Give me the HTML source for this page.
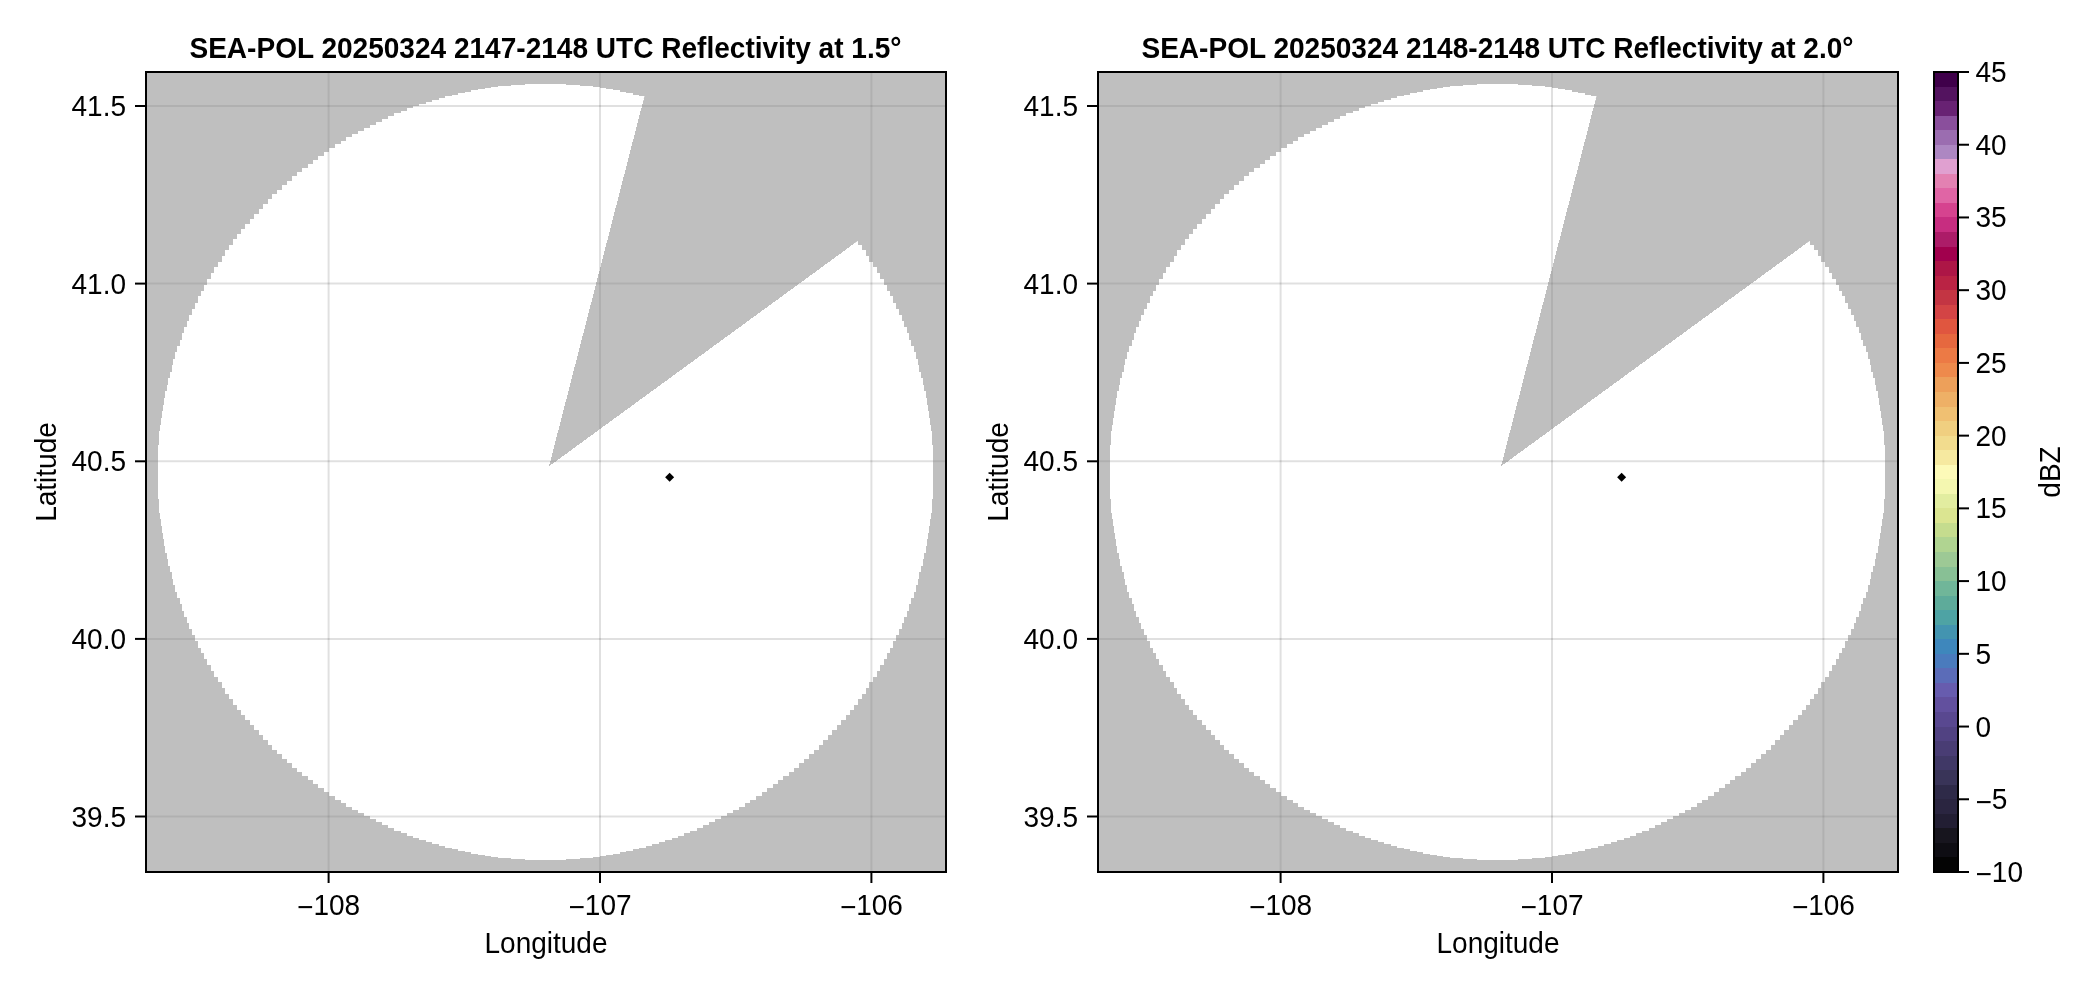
<!DOCTYPE html>
<html><head><meta charset="utf-8"><style>
html,body{margin:0;padding:0;background:#fff;width:2096px;height:990px;overflow:hidden}
svg{display:block;will-change:transform}
</style></head><body>
<svg width="2096" height="990" viewBox="0 0 2096 990">
<rect width="2096" height="990" fill="#fff"/>
<clipPath id="clip146"><rect x="146" y="72" width="800" height="800"/></clipPath>
<g stroke="#000" stroke-opacity="0.12" stroke-width="2"><line x1="328.6" y1="72" x2="328.6" y2="872"/><line x1="600.0" y1="72" x2="600.0" y2="872"/><line x1="871.4" y1="72" x2="871.4" y2="872"/><line x1="146" y1="106.0" x2="946" y2="106.0"/><line x1="146" y1="283.6" x2="946" y2="283.6"/><line x1="146" y1="461.3" x2="946" y2="461.3"/><line x1="146" y1="638.9" x2="946" y2="638.9"/><line x1="146" y1="816.5" x2="946" y2="816.5"/></g>
<clipPath id="wc146"><path clip-rule="evenodd" d="M96 22h900v900h-900z M549.05 466.25L1042.41 106.17L701.77 -126.15Z"/></clipPath>
<mask id="mask146" maskUnits="userSpaceOnUse" x="146" y="72" width="800" height="800"><rect x="146" y="72" width="800" height="800" fill="#fff"/><path d="M549.05 466.25 L855.37 242.68 A385.5 385.5 0 1 1 643.67 99.21 Z" fill="#000" shape-rendering="crispEdges"/><path d="M853 239h5v7h-5zM857 245h5v6h-5zM861 250h5v7h-5zM864 256h5v7h-5zM868 262h5v6h-5zM872 267h5v7h-5zM875 273h5v7h-5zM879 279h5v7h-5zM882 285h5v7h-5zM885 291h5v6h-5zM888 296h5v8h-5zM891 303h5v7h-5zM894 309h5v7h-5zM897 315h5v7h-5zM899 321h5v7h-5zM902 327h5v7h-5zM904 333h5v8h-5zM906 340h5v7h-5zM909 346h5v7h-5zM911 352h5v8h-5zM913 359h5v7h-5zM914 365h5v8h-5zM916 372h5v7h-5zM918 378h5v8h-5zM919 385h5v7h-5zM921 391h5v8h-5zM922 398h5v8h-5zM923 405h5v7h-5zM924 411h5v8h-5zM925 418h5v8h-5zM926 425h5v7h-5zM927 431h5v8h-5zM927 438h5v8h-5zM928 445h5v7h-5zM928 451h5v8h-5zM928 458h5v8h-5zM928 465h5v7h-5zM928 472h5v7h-5zM928 478h5v8h-5zM928 485h5v8h-5zM928 492h5v7h-5zM927 498h5v8h-5zM927 505h5v8h-5zM926 512h5v7h-5zM925 518h5v8h-5zM924 525h5v8h-5zM923 532h5v7h-5zM922 538h5v8h-5zM921 545h5v8h-5zM919 552h5v7h-5zM918 558h5v8h-5zM916 565h5v7h-5zM914 571h5v8h-5zM913 578h5v7h-5zM911 584h5v8h-5zM909 591h5v7h-5zM906 597h5v7h-5zM904 603h5v8h-5zM902 610h5v7h-5zM899 616h5v7h-5zM897 622h5v7h-5zM894 628h5v7h-5zM891 634h5v7h-5zM888 640h5v8h-5zM885 647h5v6h-5zM882 652h5v7h-5zM879 658h5v7h-5zM875 664h5v7h-5zM872 670h5v7h-5zM868 676h5v6h-5zM864 681h5v7h-5zM861 687h5v7h-5zM857 693h5v6h-5zM853 698h5v7h-5zM849 704h5v6h-5zM845 709h5v6h-5zM840 714h6v6h-6zM836 719h5v6h-5zM831 724h6v6h-6zM827 729h5v6h-5zM822 734h6v6h-6zM818 739h5v6h-5zM813 744h6v6h-6zM808 749h6v5h-6zM803 753h6v6h-6zM798 758h6v5h-6zM793 762h6v6h-6zM788 767h6v5h-6zM782 771h7v5h-7zM777 775h6v5h-6zM772 779h6v5h-6zM766 783h7v5h-7zM761 787h6v5h-6zM755 791h7v5h-7zM749 795h7v5h-7zM744 798h6v5h-6zM738 802h7v5h-7zM732 805h7v5h-7zM726 808h7v5h-7zM720 811h7v5h-7zM714 814h7v5h-7zM708 817h7v5h-7zM702 820h7v5h-7zM696 823h7v5h-7zM689 826h8v5h-8zM683 828h7v5h-7zM677 831h7v5h-7zM671 833h7v5h-7zM664 835h8v5h-8zM658 837h7v5h-7zM651 839h8v5h-8zM645 841h7v5h-7zM638 843h8v5h-8zM632 844h7v5h-7zM625 846h8v5h-8zM619 847h7v5h-7zM612 849h8v5h-8zM605 850h8v5h-8zM599 851h7v5h-7zM592 852h8v5h-8zM585 853h8v5h-8zM579 853h7v5h-7zM572 854h8v5h-8zM565 854h8v5h-8zM558 855h8v5h-8zM552 855h7v5h-7zM545 855h8v5h-8zM538 855h8v5h-8zM532 855h7v5h-7zM525 855h8v5h-8zM518 854h8v5h-8zM511 854h8v5h-8zM505 853h7v5h-7zM498 853h8v5h-8zM491 852h8v5h-8zM485 851h7v5h-7zM478 850h8v5h-8zM471 849h8v5h-8zM465 847h7v5h-7zM458 846h8v5h-8zM452 844h7v5h-7zM445 843h8v5h-8zM439 841h7v5h-7zM432 839h8v5h-8zM426 837h7v5h-7zM419 835h8v5h-8zM413 833h7v5h-7zM407 831h7v5h-7zM401 828h7v5h-7zM394 826h8v5h-8zM388 823h7v5h-7zM382 820h7v5h-7zM376 817h7v5h-7zM370 814h7v5h-7zM364 811h7v5h-7zM358 808h7v5h-7zM352 805h7v5h-7zM346 802h7v5h-7zM341 798h6v5h-6zM335 795h7v5h-7zM329 791h7v5h-7zM324 787h6v5h-6zM318 783h7v5h-7zM313 779h6v5h-6zM308 775h6v5h-6zM302 771h7v5h-7zM297 767h6v5h-6zM292 762h6v6h-6zM287 758h6v5h-6zM282 753h6v6h-6zM277 749h6v5h-6zM272 744h6v6h-6zM268 739h5v6h-5zM263 734h6v6h-6zM259 729h5v6h-5zM254 724h6v6h-6zM250 719h5v6h-5zM245 714h6v6h-6zM241 709h5v6h-5zM237 704h5v6h-5zM233 698h5v7h-5zM229 693h5v6h-5zM225 687h5v7h-5zM222 681h5v7h-5zM218 676h5v6h-5zM214 670h5v7h-5zM211 664h5v7h-5zM207 658h5v7h-5zM204 652h5v7h-5zM201 647h5v6h-5zM198 640h5v8h-5zM195 634h5v7h-5zM192 628h5v7h-5zM189 622h5v7h-5zM187 616h5v7h-5zM184 610h5v7h-5zM182 603h5v8h-5zM180 597h5v7h-5zM177 591h5v7h-5zM175 584h5v8h-5zM173 578h5v7h-5zM172 571h5v8h-5zM170 565h5v7h-5zM168 558h5v8h-5zM167 552h5v7h-5zM165 545h5v8h-5zM164 538h5v8h-5zM163 532h5v7h-5zM162 525h5v8h-5zM161 518h5v8h-5zM160 512h5v7h-5zM159 505h5v8h-5zM159 498h5v8h-5zM158 492h5v7h-5zM158 485h5v8h-5zM158 478h5v8h-5zM158 472h5v7h-5zM158 465h5v7h-5zM158 458h5v8h-5zM158 451h5v8h-5zM158 445h5v7h-5zM159 438h5v8h-5zM159 431h5v8h-5zM160 425h5v7h-5zM161 418h5v8h-5zM162 411h5v8h-5zM163 405h5v7h-5zM164 398h5v8h-5zM165 391h5v8h-5zM167 385h5v7h-5zM168 378h5v8h-5zM170 372h5v7h-5zM172 365h5v8h-5zM173 359h5v7h-5zM175 352h5v8h-5zM177 346h5v7h-5zM180 340h5v7h-5zM182 333h5v8h-5zM184 327h5v7h-5zM187 321h5v7h-5zM189 315h5v7h-5zM192 309h5v7h-5zM195 303h5v7h-5zM198 296h5v8h-5zM201 291h5v6h-5zM204 285h5v7h-5zM207 279h5v7h-5zM211 273h5v7h-5zM214 267h5v7h-5zM218 262h5v6h-5zM222 256h5v7h-5zM225 250h5v7h-5zM229 245h5v6h-5zM233 239h5v7h-5zM237 234h5v6h-5zM241 229h5v6h-5zM245 224h6v6h-6zM250 219h5v6h-5zM254 214h6v6h-6zM259 209h5v6h-5zM263 204h6v6h-6zM268 199h5v6h-5zM272 194h6v6h-6zM277 190h6v5h-6zM282 185h6v6h-6zM287 181h6v5h-6zM292 176h6v6h-6zM297 172h6v5h-6zM302 168h7v5h-7zM308 164h6v5h-6zM313 160h6v5h-6zM318 156h7v5h-7zM324 152h6v5h-6zM329 148h7v5h-7zM335 144h7v5h-7zM341 141h6v5h-6zM346 137h7v5h-7zM352 134h7v5h-7zM358 131h7v5h-7zM364 128h7v5h-7zM370 125h7v5h-7zM376 122h7v5h-7zM382 119h7v5h-7zM388 116h7v5h-7zM394 113h8v5h-8zM401 111h7v5h-7zM407 108h7v5h-7zM413 106h7v5h-7zM419 104h8v5h-8zM426 102h7v5h-7zM432 100h8v5h-8zM439 98h7v5h-7zM445 96h8v5h-8zM452 95h7v5h-7zM458 93h8v5h-8zM465 92h7v5h-7zM471 90h8v5h-8zM478 89h8v5h-8zM485 88h7v5h-7zM491 87h8v5h-8zM498 86h8v5h-8zM505 86h7v5h-7zM511 85h8v5h-8zM518 85h8v5h-8zM525 84h8v5h-8zM532 84h7v5h-7zM538 84h8v5h-8zM545 84h8v5h-8zM552 84h7v5h-7zM558 84h8v5h-8zM565 85h8v5h-8zM572 85h8v5h-8zM579 86h7v5h-7zM585 86h8v5h-8zM592 87h8v5h-8zM599 88h7v5h-7zM605 89h8v5h-8zM612 90h8v5h-8zM619 92h7v5h-7zM625 93h8v5h-8zM632 95h7v5h-7zM638 96h8v5h-8z" fill="#000" shape-rendering="crispEdges" clip-path="url(#wc146)"/></mask>
<rect x="146" y="72" width="800" height="800" fill="#7f7f7f" fill-opacity="0.5" mask="url(#mask146)"/>
<path d="M669.6 472.8 L674.1 477.3 L669.6 481.8 L665.1 477.3 Z" fill="#000"/>
<rect x="146" y="72" width="800" height="800" fill="none" stroke="#000" stroke-width="2"/>
<g stroke="#000" stroke-width="2"><line x1="328.6" y1="872" x2="328.6" y2="883"/><line x1="600.0" y1="872" x2="600.0" y2="883"/><line x1="871.4" y1="872" x2="871.4" y2="883"/><line x1="135" y1="106.0" x2="146" y2="106.0"/><line x1="135" y1="283.6" x2="146" y2="283.6"/><line x1="135" y1="461.3" x2="146" y2="461.3"/><line x1="135" y1="638.9" x2="146" y2="638.9"/><line x1="135" y1="816.5" x2="146" y2="816.5"/></g>
<g font-family="Liberation Sans, sans-serif" fill="#000"><text transform="translate(328.60 915.00) scale(0.9492 1)" font-size="29.5" text-anchor="middle"><tspan dy="2.3">−</tspan><tspan dy="-2.3">108</tspan></text><text transform="translate(600.00 915.00) scale(0.9492 1)" font-size="29.5" text-anchor="middle"><tspan dy="2.3">−</tspan><tspan dy="-2.3">107</tspan></text><text transform="translate(871.40 915.00) scale(0.9492 1)" font-size="29.5" text-anchor="middle"><tspan dy="2.3">−</tspan><tspan dy="-2.3">106</tspan></text><text transform="translate(126.00 116.00) scale(0.9492 1)" font-size="29.5" text-anchor="end">41.5</text><text transform="translate(126.00 293.60) scale(0.9492 1)" font-size="29.5" text-anchor="end">41.0</text><text transform="translate(126.00 471.30) scale(0.9492 1)" font-size="29.5" text-anchor="end">40.5</text><text transform="translate(126.00 648.90) scale(0.9492 1)" font-size="29.5" text-anchor="end">40.0</text><text transform="translate(126.00 826.50) scale(0.9492 1)" font-size="29.5" text-anchor="end">39.5</text><text transform="translate(546.00 953.00) scale(0.9492 1)" font-size="29.5" text-anchor="middle">Longitude</text><text transform="translate(56.00 472.00) rotate(-90) scale(0.9492 1)" font-size="29.5" text-anchor="middle">Latitude</text><text transform="translate(545.50 58.00) scale(0.9350 1)" font-size="30" text-anchor="middle" font-weight="bold">SEA-POL 20250324 2147-2148 UTC Reflectivity at 1.5°</text></g>
<clipPath id="clip1098"><rect x="1098" y="72" width="800" height="800"/></clipPath>
<g stroke="#000" stroke-opacity="0.12" stroke-width="2"><line x1="1280.6" y1="72" x2="1280.6" y2="872"/><line x1="1552.0" y1="72" x2="1552.0" y2="872"/><line x1="1823.4" y1="72" x2="1823.4" y2="872"/><line x1="1098" y1="106.0" x2="1898" y2="106.0"/><line x1="1098" y1="283.6" x2="1898" y2="283.6"/><line x1="1098" y1="461.3" x2="1898" y2="461.3"/><line x1="1098" y1="638.9" x2="1898" y2="638.9"/><line x1="1098" y1="816.5" x2="1898" y2="816.5"/></g>
<clipPath id="wc1098"><path clip-rule="evenodd" d="M1048 22h900v900h-900z M1501.05 466.25L1994.41 106.17L1653.77 -126.15Z"/></clipPath>
<mask id="mask1098" maskUnits="userSpaceOnUse" x="1098" y="72" width="800" height="800"><rect x="1098" y="72" width="800" height="800" fill="#fff"/><path d="M1501.05 466.25 L1807.37 242.68 A385.5 385.5 0 1 1 1595.67 99.21 Z" fill="#000" shape-rendering="crispEdges"/><path d="M1805 239h5v7h-5zM1809 245h5v6h-5zM1813 250h5v7h-5zM1816 256h5v7h-5zM1820 262h5v6h-5zM1824 267h5v7h-5zM1827 273h5v7h-5zM1831 279h5v7h-5zM1834 285h5v7h-5zM1837 291h5v6h-5zM1840 296h5v8h-5zM1843 303h5v7h-5zM1846 309h5v7h-5zM1849 315h5v7h-5zM1851 321h5v7h-5zM1854 327h5v7h-5zM1856 333h5v8h-5zM1858 340h5v7h-5zM1861 346h5v7h-5zM1863 352h5v8h-5zM1865 359h5v7h-5zM1866 365h5v8h-5zM1868 372h5v7h-5zM1870 378h5v8h-5zM1871 385h5v7h-5zM1873 391h5v8h-5zM1874 398h5v8h-5zM1875 405h5v7h-5zM1876 411h5v8h-5zM1877 418h5v8h-5zM1878 425h5v7h-5zM1879 431h5v8h-5zM1879 438h5v8h-5zM1880 445h5v7h-5zM1880 451h5v8h-5zM1880 458h5v8h-5zM1880 465h5v7h-5zM1880 472h5v7h-5zM1880 478h5v8h-5zM1880 485h5v8h-5zM1880 492h5v7h-5zM1879 498h5v8h-5zM1879 505h5v8h-5zM1878 512h5v7h-5zM1877 518h5v8h-5zM1876 525h5v8h-5zM1875 532h5v7h-5zM1874 538h5v8h-5zM1873 545h5v8h-5zM1871 552h5v7h-5zM1870 558h5v8h-5zM1868 565h5v7h-5zM1866 571h5v8h-5zM1865 578h5v7h-5zM1863 584h5v8h-5zM1861 591h5v7h-5zM1858 597h5v7h-5zM1856 603h5v8h-5zM1854 610h5v7h-5zM1851 616h5v7h-5zM1849 622h5v7h-5zM1846 628h5v7h-5zM1843 634h5v7h-5zM1840 640h5v8h-5zM1837 647h5v6h-5zM1834 652h5v7h-5zM1831 658h5v7h-5zM1827 664h5v7h-5zM1824 670h5v7h-5zM1820 676h5v6h-5zM1816 681h5v7h-5zM1813 687h5v7h-5zM1809 693h5v6h-5zM1805 698h5v7h-5zM1801 704h5v6h-5zM1797 709h5v6h-5zM1792 714h6v6h-6zM1788 719h5v6h-5zM1783 724h6v6h-6zM1779 729h5v6h-5zM1774 734h6v6h-6zM1770 739h5v6h-5zM1765 744h6v6h-6zM1760 749h6v5h-6zM1755 753h6v6h-6zM1750 758h6v5h-6zM1745 762h6v6h-6zM1740 767h6v5h-6zM1734 771h7v5h-7zM1729 775h6v5h-6zM1724 779h6v5h-6zM1718 783h7v5h-7zM1713 787h6v5h-6zM1707 791h7v5h-7zM1701 795h7v5h-7zM1696 798h6v5h-6zM1690 802h7v5h-7zM1684 805h7v5h-7zM1678 808h7v5h-7zM1672 811h7v5h-7zM1666 814h7v5h-7zM1660 817h7v5h-7zM1654 820h7v5h-7zM1648 823h7v5h-7zM1641 826h8v5h-8zM1635 828h7v5h-7zM1629 831h7v5h-7zM1623 833h7v5h-7zM1616 835h8v5h-8zM1610 837h7v5h-7zM1603 839h8v5h-8zM1597 841h7v5h-7zM1590 843h8v5h-8zM1584 844h7v5h-7zM1577 846h8v5h-8zM1571 847h7v5h-7zM1564 849h8v5h-8zM1557 850h8v5h-8zM1551 851h7v5h-7zM1544 852h8v5h-8zM1537 853h8v5h-8zM1531 853h7v5h-7zM1524 854h8v5h-8zM1517 854h8v5h-8zM1510 855h8v5h-8zM1504 855h7v5h-7zM1497 855h8v5h-8zM1490 855h8v5h-8zM1484 855h7v5h-7zM1477 855h8v5h-8zM1470 854h8v5h-8zM1463 854h8v5h-8zM1457 853h7v5h-7zM1450 853h8v5h-8zM1443 852h8v5h-8zM1437 851h7v5h-7zM1430 850h8v5h-8zM1423 849h8v5h-8zM1417 847h7v5h-7zM1410 846h8v5h-8zM1404 844h7v5h-7zM1397 843h8v5h-8zM1391 841h7v5h-7zM1384 839h8v5h-8zM1378 837h7v5h-7zM1371 835h8v5h-8zM1365 833h7v5h-7zM1359 831h7v5h-7zM1353 828h7v5h-7zM1346 826h8v5h-8zM1340 823h7v5h-7zM1334 820h7v5h-7zM1328 817h7v5h-7zM1322 814h7v5h-7zM1316 811h7v5h-7zM1310 808h7v5h-7zM1304 805h7v5h-7zM1298 802h7v5h-7zM1293 798h6v5h-6zM1287 795h7v5h-7zM1281 791h7v5h-7zM1276 787h6v5h-6zM1270 783h7v5h-7zM1265 779h6v5h-6zM1260 775h6v5h-6zM1254 771h7v5h-7zM1249 767h6v5h-6zM1244 762h6v6h-6zM1239 758h6v5h-6zM1234 753h6v6h-6zM1229 749h6v5h-6zM1224 744h6v6h-6zM1220 739h5v6h-5zM1215 734h6v6h-6zM1211 729h5v6h-5zM1206 724h6v6h-6zM1202 719h5v6h-5zM1197 714h6v6h-6zM1193 709h5v6h-5zM1189 704h5v6h-5zM1185 698h5v7h-5zM1181 693h5v6h-5zM1177 687h5v7h-5zM1174 681h5v7h-5zM1170 676h5v6h-5zM1166 670h5v7h-5zM1163 664h5v7h-5zM1159 658h5v7h-5zM1156 652h5v7h-5zM1153 647h5v6h-5zM1150 640h5v8h-5zM1147 634h5v7h-5zM1144 628h5v7h-5zM1141 622h5v7h-5zM1139 616h5v7h-5zM1136 610h5v7h-5zM1134 603h5v8h-5zM1132 597h5v7h-5zM1129 591h5v7h-5zM1127 584h5v8h-5zM1125 578h5v7h-5zM1124 571h5v8h-5zM1122 565h5v7h-5zM1120 558h5v8h-5zM1119 552h5v7h-5zM1117 545h5v8h-5zM1116 538h5v8h-5zM1115 532h5v7h-5zM1114 525h5v8h-5zM1113 518h5v8h-5zM1112 512h5v7h-5zM1111 505h5v8h-5zM1111 498h5v8h-5zM1110 492h5v7h-5zM1110 485h5v8h-5zM1110 478h5v8h-5zM1110 472h5v7h-5zM1110 465h5v7h-5zM1110 458h5v8h-5zM1110 451h5v8h-5zM1110 445h5v7h-5zM1111 438h5v8h-5zM1111 431h5v8h-5zM1112 425h5v7h-5zM1113 418h5v8h-5zM1114 411h5v8h-5zM1115 405h5v7h-5zM1116 398h5v8h-5zM1117 391h5v8h-5zM1119 385h5v7h-5zM1120 378h5v8h-5zM1122 372h5v7h-5zM1124 365h5v8h-5zM1125 359h5v7h-5zM1127 352h5v8h-5zM1129 346h5v7h-5zM1132 340h5v7h-5zM1134 333h5v8h-5zM1136 327h5v7h-5zM1139 321h5v7h-5zM1141 315h5v7h-5zM1144 309h5v7h-5zM1147 303h5v7h-5zM1150 296h5v8h-5zM1153 291h5v6h-5zM1156 285h5v7h-5zM1159 279h5v7h-5zM1163 273h5v7h-5zM1166 267h5v7h-5zM1170 262h5v6h-5zM1174 256h5v7h-5zM1177 250h5v7h-5zM1181 245h5v6h-5zM1185 239h5v7h-5zM1189 234h5v6h-5zM1193 229h5v6h-5zM1197 224h6v6h-6zM1202 219h5v6h-5zM1206 214h6v6h-6zM1211 209h5v6h-5zM1215 204h6v6h-6zM1220 199h5v6h-5zM1224 194h6v6h-6zM1229 190h6v5h-6zM1234 185h6v6h-6zM1239 181h6v5h-6zM1244 176h6v6h-6zM1249 172h6v5h-6zM1254 168h7v5h-7zM1260 164h6v5h-6zM1265 160h6v5h-6zM1270 156h7v5h-7zM1276 152h6v5h-6zM1281 148h7v5h-7zM1287 144h7v5h-7zM1293 141h6v5h-6zM1298 137h7v5h-7zM1304 134h7v5h-7zM1310 131h7v5h-7zM1316 128h7v5h-7zM1322 125h7v5h-7zM1328 122h7v5h-7zM1334 119h7v5h-7zM1340 116h7v5h-7zM1346 113h8v5h-8zM1353 111h7v5h-7zM1359 108h7v5h-7zM1365 106h7v5h-7zM1371 104h8v5h-8zM1378 102h7v5h-7zM1384 100h8v5h-8zM1391 98h7v5h-7zM1397 96h8v5h-8zM1404 95h7v5h-7zM1410 93h8v5h-8zM1417 92h7v5h-7zM1423 90h8v5h-8zM1430 89h8v5h-8zM1437 88h7v5h-7zM1443 87h8v5h-8zM1450 86h8v5h-8zM1457 86h7v5h-7zM1463 85h8v5h-8zM1470 85h8v5h-8zM1477 84h8v5h-8zM1484 84h7v5h-7zM1490 84h8v5h-8zM1497 84h8v5h-8zM1504 84h7v5h-7zM1510 84h8v5h-8zM1517 85h8v5h-8zM1524 85h8v5h-8zM1531 86h7v5h-7zM1537 86h8v5h-8zM1544 87h8v5h-8zM1551 88h7v5h-7zM1557 89h8v5h-8zM1564 90h8v5h-8zM1571 92h7v5h-7zM1577 93h8v5h-8zM1584 95h7v5h-7zM1590 96h8v5h-8z" fill="#000" shape-rendering="crispEdges" clip-path="url(#wc1098)"/></mask>
<rect x="1098" y="72" width="800" height="800" fill="#7f7f7f" fill-opacity="0.5" mask="url(#mask1098)"/>
<path d="M1621.6 472.8 L1626.1 477.3 L1621.6 481.8 L1617.1 477.3 Z" fill="#000"/>
<rect x="1098" y="72" width="800" height="800" fill="none" stroke="#000" stroke-width="2"/>
<g stroke="#000" stroke-width="2"><line x1="1280.6" y1="872" x2="1280.6" y2="883"/><line x1="1552.0" y1="872" x2="1552.0" y2="883"/><line x1="1823.4" y1="872" x2="1823.4" y2="883"/><line x1="1087" y1="106.0" x2="1098" y2="106.0"/><line x1="1087" y1="283.6" x2="1098" y2="283.6"/><line x1="1087" y1="461.3" x2="1098" y2="461.3"/><line x1="1087" y1="638.9" x2="1098" y2="638.9"/><line x1="1087" y1="816.5" x2="1098" y2="816.5"/></g>
<g font-family="Liberation Sans, sans-serif" fill="#000"><text transform="translate(1280.60 915.00) scale(0.9492 1)" font-size="29.5" text-anchor="middle"><tspan dy="2.3">−</tspan><tspan dy="-2.3">108</tspan></text><text transform="translate(1552.00 915.00) scale(0.9492 1)" font-size="29.5" text-anchor="middle"><tspan dy="2.3">−</tspan><tspan dy="-2.3">107</tspan></text><text transform="translate(1823.40 915.00) scale(0.9492 1)" font-size="29.5" text-anchor="middle"><tspan dy="2.3">−</tspan><tspan dy="-2.3">106</tspan></text><text transform="translate(1078.00 116.00) scale(0.9492 1)" font-size="29.5" text-anchor="end">41.5</text><text transform="translate(1078.00 293.60) scale(0.9492 1)" font-size="29.5" text-anchor="end">41.0</text><text transform="translate(1078.00 471.30) scale(0.9492 1)" font-size="29.5" text-anchor="end">40.5</text><text transform="translate(1078.00 648.90) scale(0.9492 1)" font-size="29.5" text-anchor="end">40.0</text><text transform="translate(1078.00 826.50) scale(0.9492 1)" font-size="29.5" text-anchor="end">39.5</text><text transform="translate(1498.00 953.00) scale(0.9492 1)" font-size="29.5" text-anchor="middle">Longitude</text><text transform="translate(1008.00 472.00) rotate(-90) scale(0.9492 1)" font-size="29.5" text-anchor="middle">Latitude</text><text transform="translate(1497.50 58.00) scale(0.9350 1)" font-size="30" text-anchor="middle" font-weight="bold">SEA-POL 20250324 2148-2148 UTC Reflectivity at 2.0°</text></g>
<rect x="1934" y="72.000" width="24" height="14.545" fill="#3f004a" shape-rendering="crispEdges"/>
<rect x="1934" y="86.545" width="24" height="14.545" fill="#53135f" shape-rendering="crispEdges"/>
<rect x="1934" y="101.091" width="24" height="14.545" fill="#682273" shape-rendering="crispEdges"/>
<rect x="1934" y="115.636" width="24" height="14.545" fill="#8a4f9c" shape-rendering="crispEdges"/>
<rect x="1934" y="130.182" width="24" height="14.545" fill="#9b6db0" shape-rendering="crispEdges"/>
<rect x="1934" y="144.727" width="24" height="14.545" fill="#ad87c2" shape-rendering="crispEdges"/>
<rect x="1934" y="159.273" width="24" height="14.545" fill="#e0a0d0" shape-rendering="crispEdges"/>
<rect x="1934" y="173.818" width="24" height="14.545" fill="#e381b2" shape-rendering="crispEdges"/>
<rect x="1934" y="188.364" width="24" height="14.545" fill="#e065a5" shape-rendering="crispEdges"/>
<rect x="1934" y="202.909" width="24" height="14.545" fill="#d6438f" shape-rendering="crispEdges"/>
<rect x="1934" y="217.455" width="24" height="14.545" fill="#c72d80" shape-rendering="crispEdges"/>
<rect x="1934" y="232.000" width="24" height="14.545" fill="#ac1c68" shape-rendering="crispEdges"/>
<rect x="1934" y="246.545" width="24" height="14.545" fill="#a1004d" shape-rendering="crispEdges"/>
<rect x="1934" y="261.091" width="24" height="14.545" fill="#ad1646" shape-rendering="crispEdges"/>
<rect x="1934" y="275.636" width="24" height="14.545" fill="#ba2344" shape-rendering="crispEdges"/>
<rect x="1934" y="290.182" width="24" height="14.545" fill="#c33543" shape-rendering="crispEdges"/>
<rect x="1934" y="304.727" width="24" height="14.545" fill="#d34445" shape-rendering="crispEdges"/>
<rect x="1934" y="319.273" width="24" height="14.545" fill="#e0563f" shape-rendering="crispEdges"/>
<rect x="1934" y="333.818" width="24" height="14.545" fill="#e6683f" shape-rendering="crispEdges"/>
<rect x="1934" y="348.364" width="24" height="14.545" fill="#ec7a45" shape-rendering="crispEdges"/>
<rect x="1934" y="362.909" width="24" height="14.545" fill="#ee8a4c" shape-rendering="crispEdges"/>
<rect x="1934" y="377.455" width="24" height="14.545" fill="#eda05a" shape-rendering="crispEdges"/>
<rect x="1934" y="392.000" width="24" height="14.545" fill="#eeb066" shape-rendering="crispEdges"/>
<rect x="1934" y="406.545" width="24" height="14.545" fill="#f0c072" shape-rendering="crispEdges"/>
<rect x="1934" y="421.091" width="24" height="14.545" fill="#f0cf80" shape-rendering="crispEdges"/>
<rect x="1934" y="435.636" width="24" height="14.545" fill="#f2dc8e" shape-rendering="crispEdges"/>
<rect x="1934" y="450.182" width="24" height="14.545" fill="#f6e9a0" shape-rendering="crispEdges"/>
<rect x="1934" y="464.727" width="24" height="14.545" fill="#fdfab8" shape-rendering="crispEdges"/>
<rect x="1934" y="479.273" width="24" height="14.545" fill="#f4f7b0" shape-rendering="crispEdges"/>
<rect x="1934" y="493.818" width="24" height="14.545" fill="#e2eda0" shape-rendering="crispEdges"/>
<rect x="1934" y="508.364" width="24" height="14.545" fill="#dbe591" shape-rendering="crispEdges"/>
<rect x="1934" y="522.909" width="24" height="14.545" fill="#c5dc8e" shape-rendering="crispEdges"/>
<rect x="1934" y="537.455" width="24" height="14.545" fill="#b0d491" shape-rendering="crispEdges"/>
<rect x="1934" y="552.000" width="24" height="14.545" fill="#9dc995" shape-rendering="crispEdges"/>
<rect x="1934" y="566.545" width="24" height="14.545" fill="#88c095" shape-rendering="crispEdges"/>
<rect x="1934" y="581.091" width="24" height="14.545" fill="#70b699" shape-rendering="crispEdges"/>
<rect x="1934" y="595.636" width="24" height="14.545" fill="#5eab9a" shape-rendering="crispEdges"/>
<rect x="1934" y="610.182" width="24" height="14.545" fill="#4ea3a4" shape-rendering="crispEdges"/>
<rect x="1934" y="624.727" width="24" height="14.545" fill="#4394b0" shape-rendering="crispEdges"/>
<rect x="1934" y="639.273" width="24" height="14.545" fill="#3e87bc" shape-rendering="crispEdges"/>
<rect x="1934" y="653.818" width="24" height="14.545" fill="#4a7bbd" shape-rendering="crispEdges"/>
<rect x="1934" y="668.364" width="24" height="14.545" fill="#5b6cb8" shape-rendering="crispEdges"/>
<rect x="1934" y="682.909" width="24" height="14.545" fill="#675cae" shape-rendering="crispEdges"/>
<rect x="1934" y="697.455" width="24" height="14.545" fill="#62509e" shape-rendering="crispEdges"/>
<rect x="1934" y="712.000" width="24" height="14.545" fill="#594890" shape-rendering="crispEdges"/>
<rect x="1934" y="726.545" width="24" height="14.545" fill="#514282" shape-rendering="crispEdges"/>
<rect x="1934" y="741.091" width="24" height="14.545" fill="#493d74" shape-rendering="crispEdges"/>
<rect x="1934" y="755.636" width="24" height="14.545" fill="#403866" shape-rendering="crispEdges"/>
<rect x="1934" y="770.182" width="24" height="14.545" fill="#393458" shape-rendering="crispEdges"/>
<rect x="1934" y="784.727" width="24" height="14.545" fill="#2e2a48" shape-rendering="crispEdges"/>
<rect x="1934" y="799.273" width="24" height="14.545" fill="#2a2540" shape-rendering="crispEdges"/>
<rect x="1934" y="813.818" width="24" height="14.545" fill="#221e33" shape-rendering="crispEdges"/>
<rect x="1934" y="828.364" width="24" height="14.545" fill="#17151e" shape-rendering="crispEdges"/>
<rect x="1934" y="842.909" width="24" height="14.545" fill="#0e0d13" shape-rendering="crispEdges"/>
<rect x="1934" y="857.455" width="24" height="14.545" fill="#040404" shape-rendering="crispEdges"/>
<rect x="1934" y="72" width="24" height="800" fill="none" stroke="#000" stroke-width="2"/>
<g stroke="#000" stroke-width="2"><line x1="1958" y1="72.00" x2="1969" y2="72.00"/><line x1="1958" y1="144.73" x2="1969" y2="144.73"/><line x1="1958" y1="217.45" x2="1969" y2="217.45"/><line x1="1958" y1="290.18" x2="1969" y2="290.18"/><line x1="1958" y1="362.91" x2="1969" y2="362.91"/><line x1="1958" y1="435.64" x2="1969" y2="435.64"/><line x1="1958" y1="508.36" x2="1969" y2="508.36"/><line x1="1958" y1="581.09" x2="1969" y2="581.09"/><line x1="1958" y1="653.82" x2="1969" y2="653.82"/><line x1="1958" y1="726.55" x2="1969" y2="726.55"/><line x1="1958" y1="799.27" x2="1969" y2="799.27"/><line x1="1958" y1="872.00" x2="1969" y2="872.00"/></g>
<g font-family="Liberation Sans, sans-serif" fill="#000"><text transform="translate(1975.50 82.00) scale(0.9492 1)" font-size="29.5">45</text><text transform="translate(1975.50 154.73) scale(0.9492 1)" font-size="29.5">40</text><text transform="translate(1975.50 227.45) scale(0.9492 1)" font-size="29.5">35</text><text transform="translate(1975.50 300.18) scale(0.9492 1)" font-size="29.5">30</text><text transform="translate(1975.50 372.91) scale(0.9492 1)" font-size="29.5">25</text><text transform="translate(1975.50 445.64) scale(0.9492 1)" font-size="29.5">20</text><text transform="translate(1975.50 518.36) scale(0.9492 1)" font-size="29.5">15</text><text transform="translate(1975.50 591.09) scale(0.9492 1)" font-size="29.5">10</text><text transform="translate(1975.50 663.82) scale(0.9492 1)" font-size="29.5">5</text><text transform="translate(1975.50 736.55) scale(0.9492 1)" font-size="29.5">0</text><text transform="translate(1975.50 809.27) scale(0.9492 1)" font-size="29.5"><tspan dy="2.3">−</tspan><tspan dy="-2.3">5</tspan></text><text transform="translate(1975.50 882.00) scale(0.9492 1)" font-size="29.5"><tspan dy="2.3">−</tspan><tspan dy="-2.3">10</tspan></text><text transform="translate(2060.00 472.00) rotate(-90) scale(0.9492 1)" font-size="29.5" text-anchor="middle">dBZ</text></g>
</svg>
</body></html>
